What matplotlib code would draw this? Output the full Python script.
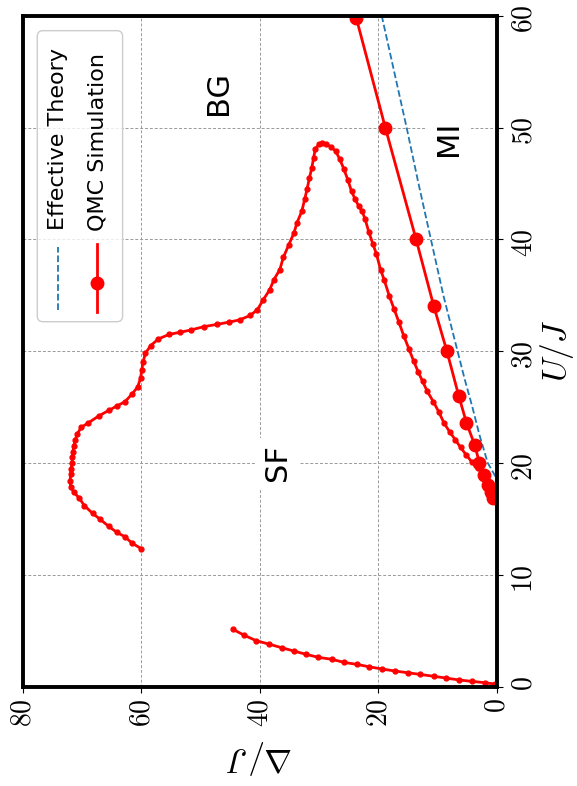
import matplotlib
matplotlib.use('Agg')
import matplotlib.pyplot as plt
import matplotlib.patches as mpatches
from matplotlib.lines import Line2D

plt.rcParams['mathtext.fontset'] = 'cm'

# SF boundary from QMC, small markers (Delta/J, U/J)
sf_delta = [60.0, 61.6, 62.7, 64.1, 65.5, 67.0, 68.2, 69.6, 70.5, 71.4, 71.9, 72.0,
            71.9, 71.8, 71.7, 71.6, 71.5, 71.4, 71.1, 70.8, 70.1, 68.9, 67.2, 65.5,
            64.1, 62.7, 61.5, 60.6, 60.1, 59.9, 59.7, 59.3, 58.4, 57.1, 55.3, 53.4,
            51.6, 49.4, 47.2, 45.2, 43.4, 41.6, 40.4, 39.4, 38.3, 37.6, 36.6, 36.0,
            35.1, 34.2, 33.7, 32.9, 32.4, 32.0, 31.6, 31.2, 30.9, 30.6, 30.0, 29.5,
            28.8, 28.0, 27.2, 26.5, 25.8, 25.1, 24.5, 23.9, 23.3, 22.7, 22.2, 21.6,
            20.9, 20.3, 19.6, 19.0, 18.1, 17.3, 16.5, 15.7, 14.8, 14.0, 13.2, 12.5,
            11.7, 10.7, 9.8, 8.9, 7.95, 7.0, 6.1, 5.1, 4.2, 3.2, 2.2, 1.2, 0.6, 0.3]
sf_u = [12.35, 12.86, 13.4, 13.8, 14.35, 15.0, 15.5, 16.2, 16.9, 17.4, 17.9, 18.4,
        19.0, 19.5, 20.0, 20.5, 21.0, 21.5, 22.1, 22.6, 23.2, 23.6, 24.2, 24.7,
        25.1, 25.5, 26.2, 26.8, 27.6, 28.3, 29.0, 29.8, 30.5, 31.1, 31.5, 31.7,
        31.9, 32.2, 32.4, 32.6, 32.8, 33.2, 33.7, 34.6, 35.5, 36.4, 37.3, 38.4,
        39.5, 40.6, 41.5, 42.5, 43.6, 44.5, 45.5, 46.4, 47.3, 48.1, 48.5, 48.6,
        48.5, 48.3, 47.9, 47.2, 46.3, 45.3, 44.3, 43.6, 43.0, 42.5, 41.8, 40.7,
        39.6, 38.7, 37.3, 36.4, 34.9, 33.75, 32.6, 31.4, 30.2, 29.1, 28.1, 27.3,
        26.4, 25.5, 24.6, 23.6, 22.8, 22.1, 21.4, 20.7, 20.1, 19.55, 19.0, 18.2, 17.3, 16.7]

# low-U branch
low_delta = [44.5, 42.6, 40.6, 38.5, 36.3, 34.2, 32.2, 30.1, 27.8, 25.8, 23.6,
             21.6, 19.3, 17.1, 15.0, 12.9, 10.6, 8.6, 6.3, 4.2, 2.0, 0.3]
low_u = [5.13, 4.6, 4.12, 3.82, 3.49, 3.19, 2.9, 2.63, 2.45, 2.18, 2.0,
         1.79, 1.58, 1.40, 1.25, 1.10, 0.93, 0.78, 0.6, 0.48, 0.36, 0.24]

# MI boundary, QMC simulation
qmc_delta = [0.6, 1.0, 1.5, 2.1, 2.9, 3.7, 5.1, 6.4, 8.4, 10.6, 13.6, 18.8, 23.7]
qmc_u = [16.9, 17.4, 18.0, 18.9, 20.0, 21.6, 23.6, 26.0, 30.0, 34.0, 40.0, 50.0, 59.8]

# MI boundary, effective theory
eff_delta = [0.2, 1.5, 2.9, 4.1, 5.4, 6.6, 9.0, 11.1, 13.2, 15.2, 17.3, 19.4]
eff_u = [18.8, 20.0, 22.5, 25.0, 27.5, 30.0, 35.0, 40.0, 45.0, 50.0, 55.0, 60.0]

u_ticks = [0, 10, 20, 30, 40, 50, 60]
d_ticks = [0, 20, 40, 60, 80]

fig = plt.figure(figsize=(5.77, 7.86), dpi=100)
ax = fig.add_axes([0.0393, 0.1263, 0.8215, 0.8537])

ax.plot(eff_delta, eff_u, '--', color='#1f77b4', lw=1.3)
ax.plot(sf_delta, sf_u, '-o', color='red', lw=2, ms=3.5)
ax.plot(low_delta, low_u, '-o', color='red', lw=2, ms=3.5)
ax.plot(qmc_delta, qmc_u, '-o', color='red', lw=2, ms=9)

ax.set_xlim(80, 0)
ax.set_ylim(0, 60)
ax.yaxis.tick_right()
ax.set_xticks(d_ticks, ['$%d$' % t for t in d_ticks], rotation=90)
ax.set_yticks(u_ticks, ['$%d$' % t for t in u_ticks], rotation=90)
ax.tick_params(labelsize=20, direction='out', length=4.5, width=0.8)
ax.tick_params(axis='x', pad=4)
ax.tick_params(axis='y', pad=5)
ax.set_xlabel(r'$\Delta/J$', fontsize=24, rotation=180, labelpad=8)

# U/J label placed by hand on the right, reading upward
ax.text(1.127, 0.5, r'$U/J$', transform=ax.transAxes, fontsize=24, rotation=90,
        ha='center', va='center')

for s in ax.spines.values():
    s.set_linewidth(2.8)
ax.grid(True, ls=(0, (3, 2)), lw=0.7, color='0.6')
ax.set_axisbelow(True)

box = dict(facecolor='white', edgecolor='none', pad=5)
ax.text(47.0, 53.1, 'BG', rotation=90, fontsize=22, ha='center', va='center', bbox=box)
ax.text(8.05, 49.0, 'MI', rotation=90, fontsize=22, ha='center', va='center', bbox=box)
ax.text(37.0, 20.0, 'SF', rotation=90, fontsize=22, ha='center', va='center', bbox=box)

# legend, drawn by hand so the text runs upward
frame = mpatches.FancyBboxPatch((0.0308, 0.544), 0.180, 0.4337,
                                boxstyle='round,pad=0,rounding_size=0.012',
                                mutation_aspect=474 / 671, transform=ax.transAxes,
                                facecolor=(1, 1, 1, 0.8), edgecolor='0.8', lw=1, zorder=5)
ax.add_patch(frame)
ax.add_line(Line2D([0.0745, 0.0745], [0.5614, 0.6557], transform=ax.transAxes,
                   ls='--', color='#1f77b4', lw=1.3, zorder=6))
ax.add_line(Line2D([0.1574, 0.1574], [0.559, 0.660], transform=ax.transAxes,
                   color='red', lw=2, zorder=6))
ax.add_line(Line2D([0.1574], [0.602], transform=ax.transAxes, marker='o', ms=9,
                   color='red', zorder=6))
ax.text(0.0745, 0.6806, 'Effective Theory', transform=ax.transAxes, rotation=90,
        rotation_mode='anchor', ha='left', va='center', fontsize=16, zorder=7)
ax.text(0.1574, 0.6786, 'QMC Simulation', transform=ax.transAxes, rotation=90,
        rotation_mode='anchor', ha='left', va='center', fontsize=16, zorder=7)

fig.savefig('out.png', dpi=100)
